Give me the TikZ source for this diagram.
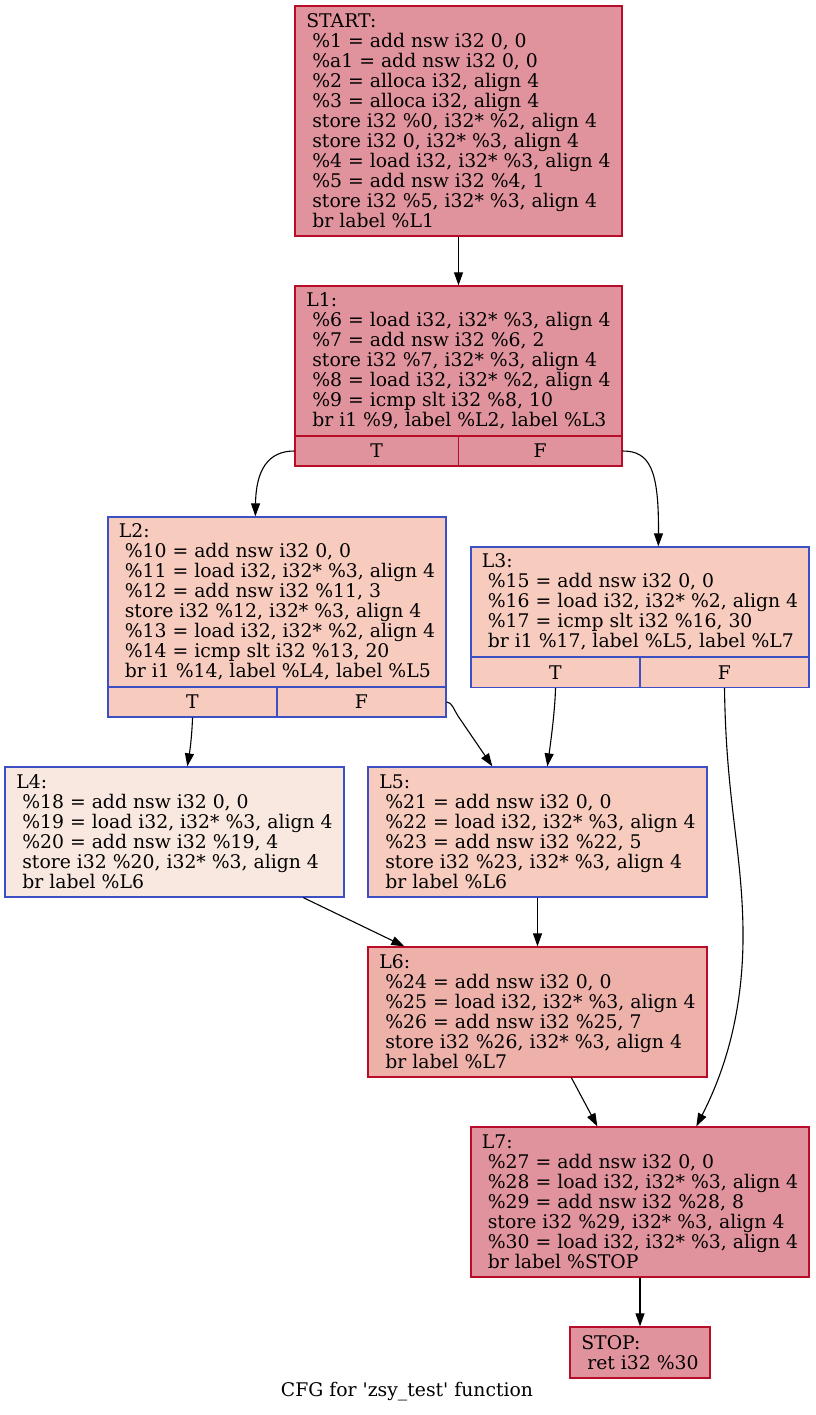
\documentclass[tikz,border=0pt]{standalone}
\usepackage{fontspec}
\setmainfont{DejaVu Serif}
\usetikzlibrary{arrows.meta}

\definecolor{hotline}{RGB}{183,13,40}
\definecolor{hotfill}{RGB}{224,147,157}
\definecolor{warmfill}{RGB}{237,177,170}
\definecolor{coolline}{RGB}{61,80,195}
\definecolor{coolfill}{RGB}{247,203,190}
\definecolor{palefill}{RGB}{248,232,223}

\newcommand\cfgsize{\fontsize{18.8}{20}\selectfont}
\newcommand\lead{\mbox{}\space}

\tikzset{
  block/.style={rectangle, inner sep=0pt, align=left, font=\cfgsize, line width=1.3pt},
  hot/.style={block, draw=hotline, fill=hotfill},
  warm/.style={block, draw=hotline, fill=warmfill},
  cool/.style={block, draw=coolline, fill=coolfill},
  pale/.style={block, draw=coolline, fill=palefill},
  flow/.style={line width=1.1pt, -{Triangle[length=13pt,width=9pt]}},
}

\begin{document}
\begin{tikzpicture}[x=1pt, y=-1pt]
\useasboundingbox (0,0) rectangle (815,1415);

% basic blocks
\node[hot, minimum width=327pt, minimum height=230pt] (START) at (458.5,121) {START:\\
\lead\%1 = add nsw i32 0, 0\\
\lead\%a1 = add nsw i32 0, 0\\
\lead\%2 = alloca i32, align 4\\
\lead\%3 = alloca i32, align 4\\
\lead store i32 \%0, i32* \%2, align 4\\
\lead store i32 0, i32* \%3, align 4\\
\lead\%4 = load i32, i32* \%3, align 4\\
\lead\%5 = add nsw i32 \%4, 1\\
\lead store i32 \%5, i32* \%3, align 4\\
\lead br label \%L1};

\node[hot, minimum width=327pt, minimum height=150pt] (L1) at (458.5,361) {L1:\\
\lead\%6 = load i32, i32* \%3, align 4\\
\lead\%7 = add nsw i32 \%6, 2\\
\lead store i32 \%7, i32* \%3, align 4\\
\lead\%8 = load i32, i32* \%2, align 4\\
\lead\%9 = icmp slt i32 \%8, 10\\
\lead br i1 \%9, label \%L2, label \%L3};
\node[hot, minimum width=163.5pt, minimum height=30pt] (L1T) at (376.75,451) {T};
\node[hot, minimum width=163.5pt, minimum height=30pt] (L1F) at (540.25,451) {F};

\node[cool, minimum width=338pt, minimum height=170pt] (L2) at (277,602) {L2:\\
\lead\%10 = add nsw i32 0, 0\\
\lead\%11 = load i32, i32* \%3, align 4\\
\lead\%12 = add nsw i32 \%11, 3\\
\lead store i32 \%12, i32* \%3, align 4\\
\lead\%13 = load i32, i32* \%2, align 4\\
\lead\%14 = icmp slt i32 \%13, 20\\
\lead br i1 \%14, label \%L4, label \%L5};
\node[cool, minimum width=169pt, minimum height=30pt] (L2T) at (192.5,702) {T};
\node[cool, minimum width=169pt, minimum height=30pt] (L2F) at (361.5,702) {F};

\node[cool, minimum width=338pt, minimum height=110pt] (L3) at (640,602) {L3:\\
\lead\%15 = add nsw i32 0, 0\\
\lead\%16 = load i32, i32* \%2, align 4\\
\lead\%17 = icmp slt i32 \%16, 30\\
\lead br i1 \%17, label \%L5, label \%L7};
\node[cool, minimum width=169pt, minimum height=30.5pt] (L3T) at (555.5,672.25) {T};
\node[cool, minimum width=169pt, minimum height=30.5pt] (L3F) at (724.5,672.25) {F};

\node[pale, minimum width=339pt, minimum height=130pt] (L4) at (174.5,832) {L4:\\
\lead\%18 = add nsw i32 0, 0\\
\lead\%19 = load i32, i32* \%3, align 4\\
\lead\%20 = add nsw i32 \%19, 4\\
\lead store i32 \%20, i32* \%3, align 4\\
\lead br label \%L6};

\node[cool, minimum width=339pt, minimum height=130pt] (L5) at (537.5,832) {L5:\\
\lead\%21 = add nsw i32 0, 0\\
\lead\%22 = load i32, i32* \%3, align 4\\
\lead\%23 = add nsw i32 \%22, 5\\
\lead store i32 \%23, i32* \%3, align 4\\
\lead br label \%L6};

\node[warm, minimum width=339pt, minimum height=130pt] (L6) at (537.5,1012) {L6:\\
\lead\%24 = add nsw i32 0, 0\\
\lead\%25 = load i32, i32* \%3, align 4\\
\lead\%26 = add nsw i32 \%25, 7\\
\lead store i32 \%26, i32* \%3, align 4\\
\lead br label \%L7};

\node[hot, minimum width=338pt, minimum height=150pt] (L7) at (640,1202) {L7:\\
\lead\%27 = add nsw i32 0, 0\\
\lead\%28 = load i32, i32* \%3, align 4\\
\lead\%29 = add nsw i32 \%28, 8\\
\lead store i32 \%29, i32* \%3, align 4\\
\lead\%30 = load i32, i32* \%3, align 4\\
\lead br label \%STOP};

\node[hot, minimum width=140pt, minimum height=51pt] (STOP) at (640,1352.5) {STOP:\\
\lead ret i32 \%30};

\node[font=\cfgsize, inner sep=0pt] (title) at (407,1392)
  {CFG for \textquotesingle zsy\_test\textquotesingle{} function};

% control-flow edges
\draw[flow] (START.south) -- (L1.north);
\draw[flow] (L1T.west) .. controls (268,451) and (256,470) .. ([xshift=148pt]L2.north west);
\draw[flow] (L1F.east) .. controls (650,451) and (659,470) .. ([xshift=188pt]L3.north west);
\draw[flow] (L2T.south) .. controls (192,735) and (190,750) .. ([xshift=183pt]L4.north west);
\draw[flow] (L2F.east) .. controls (452,702) and (454,710) .. (458,716) -- ([xshift=125pt]L5.north west);
\draw[flow] (L3T.south) .. controls (555,710) and (551,740) .. ([xshift=180pt]L5.north west);
\draw[flow] (L3F.south) .. controls (726,800) and (742,850) .. (743,930)
  .. controls (744,1020) and (720,1080) .. ([xshift=226pt]L7.north west);
\draw[flow] ([xshift=299pt]L4.south west) -- ([xshift=37pt]L6.north west);
\draw[flow] (L5.south) -- (L6.north);
\draw[flow] ([xshift=204pt]L6.south west) -- ([xshift=127pt]L7.north west);
\draw[flow] (L7.south) -- (STOP.north);
\end{tikzpicture}
\end{document}
